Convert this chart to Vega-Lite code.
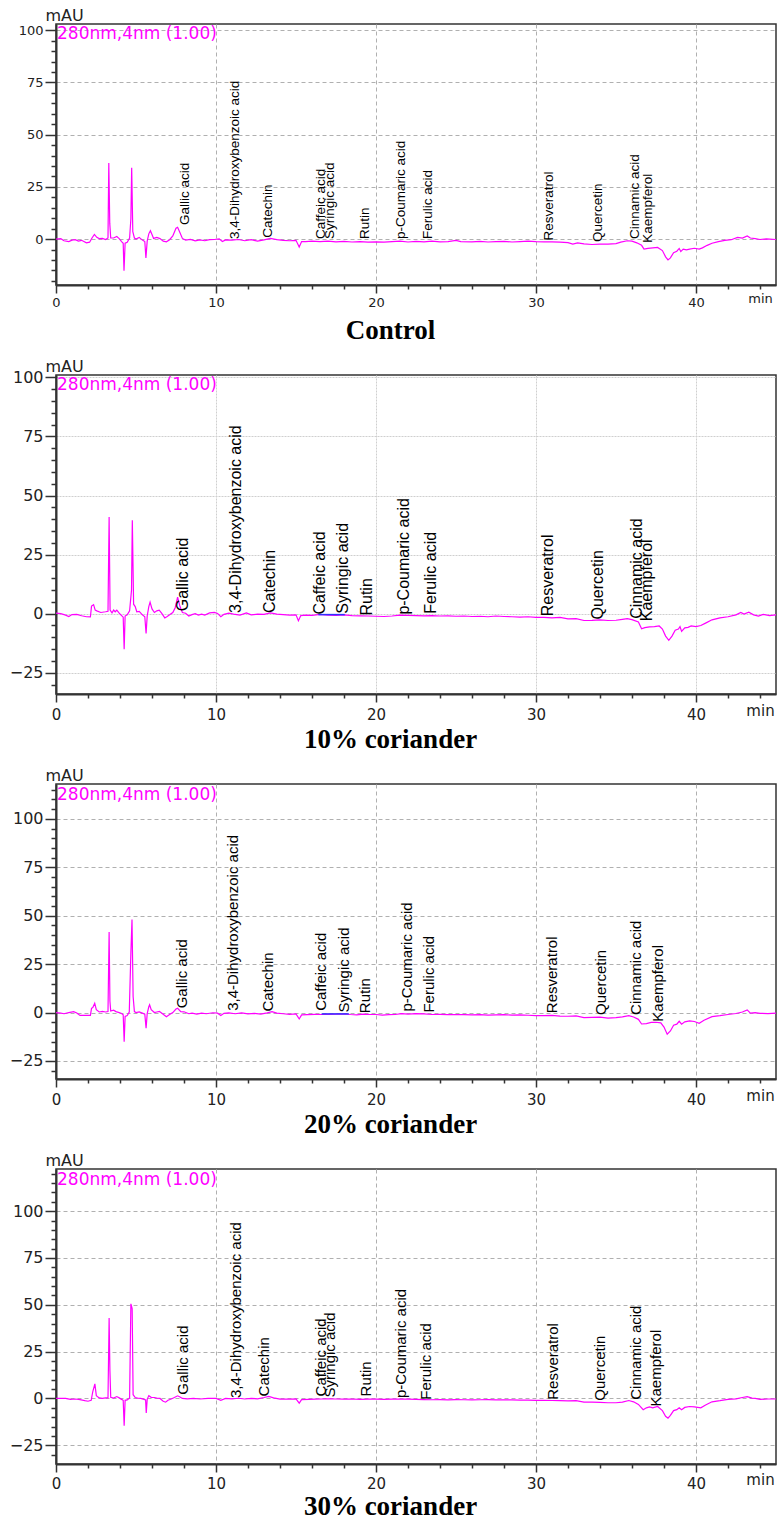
{
  "$schema": "https://vega.github.io/schema/vega-lite/v6.json",
  "background": "white",
  "padding": {"left": 8, "top": 6, "right": 5, "bottom": 2},
  "bounds": "flush",
  "spacing": 90,
  "config": {
    "view": {"stroke": "#333", "strokeWidth": 1.5},
    "axis": {
      "domainColor": "#333", "domainWidth": 2, "tickColor": "#333", "tickWidth": 1.5,
      "labelFont": "DejaVu Sans", "labelColor": "#222", "gridColor": "#b0b0b0", "gridDash": [4, 3], "gridWidth": 1,
      "labelOverlap": false, "labelFlush": false, "labelBound": false, "tickCount": 200, "format": "d"
    },
    "axisX": {"titleFont": "Liberation Serif", "titleFontWeight": "bold", "titleColor": "#000", "titleFontSize": 27, "titleX": 334, "titleY": 53, "titleBaseline": "alphabetic", "titleAlign": "center", "titleAnchor": null},
    "axisY": {"titleAngle": 0, "titleAlign": "left", "titleBaseline": "alphabetic", "titleX": -11, "titleY": -4, "titleFont": "DejaVu Sans", "titleFontWeight": "normal", "titleColor": "#222", "titleFontSize": 16}
  },
  "datasets": {
    "tr0": [
      {"t":0,"v":0},{"t":0.3,"v":0.2},{"t":0.5,"v":-0.8},{"t":0.8,"v":-1.2},{"t":1.0,"v":-0.5},{"t":1.2,"v":-0.3},{"t":1.4,"v":-1.0},{"t":1.6,"v":-0.6},{"t":1.9,"v":-1.8},{"t":2.1,"v":-1.5},{"t":2.25,"v":0.5},{"t":2.4,"v":2.2},{"t":2.55,"v":0.8},{"t":2.7,"v":0.2},{"t":2.9,"v":0.3},{"t":3.1,"v":-0.2},{"t":3.25,"v":0.5},{"t":3.3,"v":36.4},{"t":3.36,"v":7.5},{"t":3.42,"v":0.5},{"t":3.6,"v":0.5},{"t":3.8,"v":1.2},{"t":3.95,"v":0.2},{"t":4.1,"v":-1.2},{"t":4.2,"v":-2},{"t":4.25,"v":-15.2},{"t":4.32,"v":-2},{"t":4.45,"v":-1.5},{"t":4.6,"v":0.5},{"t":4.68,"v":9.7},{"t":4.73,"v":34.1},{"t":4.8,"v":3.5},{"t":4.9,"v":0.5},{"t":5.0,"v":0},{"t":5.2,"v":0.8},{"t":5.4,"v":-0.5},{"t":5.55,"v":-1.2},{"t":5.62,"v":-9},{"t":5.7,"v":-1},{"t":5.8,"v":2.5},{"t":5.9,"v":4},{"t":6.0,"v":2.2},{"t":6.1,"v":0.3},{"t":6.3,"v":0.8},{"t":6.5,"v":0.2},{"t":6.7,"v":-1},{"t":6.9,"v":-1.3},{"t":7.1,"v":-0.3},{"t":7.3,"v":1.5},{"t":7.5,"v":5.2},{"t":7.6,"v":5.6},{"t":7.75,"v":3},{"t":7.9,"v":0.3},{"t":8.1,"v":-0.5},{"t":8.4,"v":-0.2},{"t":8.7,"v":-0.9},{"t":9.0,"v":-0.4},{"t":9.3,"v":-0.8},{"t":9.6,"v":-0.3},{"t":9.9,"v":-0.2},{"t":10.2,"v":0.1},{"t":10.4,"v":-1.2},{"t":10.6,"v":-0.4},{"t":11.0,"v":-0.5},{"t":11.4,"v":-0.2},{"t":11.8,"v":-0.8},{"t":12.2,"v":-0.3},{"t":12.6,"v":-1.0},{"t":13.0,"v":-0.4},{"t":13.4,"v":0.3},{"t":13.8,"v":-0.3},{"t":14.2,"v":-0.6},{"t":14.6,"v":-0.8},{"t":15.0,"v":-0.6},{"t":15.2,"v":-3.8},{"t":15.35,"v":-1.2},{"t":15.6,"v":-1.2},{"t":16.0,"v":-1.0},{"t":16.5,"v":-1.2},{"t":17.0,"v":-1.0},{"t":17.5,"v":-1.3},{"t":18.0,"v":-1.1},{"t":18.5,"v":-1.4},{"t":19.0,"v":-1.2},{"t":19.5,"v":-1.5},{"t":20.0,"v":-1.3},{"t":20.5,"v":-1.5},{"t":21.0,"v":-1.2},{"t":21.5,"v":-1.0},{"t":22.0,"v":-1.4},{"t":22.5,"v":-1.1},{"t":23.0,"v":-1.3},{"t":23.5,"v":-1.0},{"t":24.0,"v":-1.3},{"t":24.5,"v":-1.2},{"t":25.0,"v":-0.6},{"t":25.3,"v":-1.2},{"t":26.0,"v":-1.3},{"t":26.5,"v":-1.1},{"t":27.0,"v":-1.4},{"t":27.5,"v":-1.2},{"t":28.0,"v":-1.1},{"t":28.5,"v":-1.4},{"t":29.0,"v":-1.2},{"t":29.5,"v":-1.0},{"t":30.0,"v":-1.2},{"t":30.5,"v":-1.3},{"t":31.0,"v":-1.3},{"t":31.5,"v":-1.5},{"t":32.0,"v":-1.7},{"t":32.3,"v":-2.4},{"t":32.6,"v":-1.8},{"t":33.0,"v":-2.3},{"t":33.5,"v":-2.6},{"t":34.0,"v":-2.4},{"t":34.5,"v":-2.4},{"t":35.0,"v":-2.2},{"t":35.3,"v":-1.5},{"t":35.7,"v":-0.8},{"t":36.0,"v":-1.0},{"t":36.3,"v":-1.8},{"t":36.6,"v":-3.0},{"t":36.75,"v":-4.8},{"t":37.0,"v":-4.5},{"t":37.3,"v":-4.2},{"t":37.6,"v":-4.0},{"t":37.9,"v":-5.5},{"t":38.1,"v":-8.5},{"t":38.25,"v":-10},{"t":38.4,"v":-9},{"t":38.6,"v":-6.5},{"t":38.8,"v":-5.8},{"t":38.95,"v":-4.5},{"t":39.05,"v":-6},{"t":39.2,"v":-4.8},{"t":39.4,"v":-5.2},{"t":39.6,"v":-4.8},{"t":39.9,"v":-4.4},{"t":40.2,"v":-4.8},{"t":40.4,"v":-4.2},{"t":40.7,"v":-3.0},{"t":41.0,"v":-2.0},{"t":41.4,"v":-1.2},{"t":41.8,"v":-0.6},{"t":42.2,"v":-0.3},{"t":42.6,"v":0.8},{"t":42.9,"v":0.5},{"t":43.2,"v":1.5},{"t":43.4,"v":0.5},{"t":43.7,"v":0.2},{"t":44.0,"v":-0.2},{"t":44.4,"v":0.1},{"t":45,"v":-0.2}
    ],
    "tr10": [
      {"t":0,"v":0.2},{"t":0.3,"v":0},{"t":0.6,"v":-0.6},{"t":0.8,"v":-1.2},{"t":1.0,"v":-0.4},{"t":1.3,"v":-0.3},{"t":1.6,"v":-0.9},{"t":1.9,"v":-1.3},{"t":2.15,"v":-1.4},{"t":2.22,"v":3.2},{"t":2.35,"v":3.8},{"t":2.45,"v":1.5},{"t":2.55,"v":1.2},{"t":2.8,"v":0.5},{"t":3.1,"v":0.8},{"t":3.25,"v":1},{"t":3.32,"v":40.9},{"t":3.38,"v":1.5},{"t":3.5,"v":0.3},{"t":3.6,"v":1.5},{"t":3.7,"v":0.8},{"t":3.8,"v":1.5},{"t":3.95,"v":0.2},{"t":4.1,"v":-0.8},{"t":4.2,"v":-1.5},{"t":4.26,"v":-15.1},{"t":4.32,"v":-1},{"t":4.45,"v":-0.5},{"t":4.6,"v":1.2},{"t":4.72,"v":10},{"t":4.77,"v":39.5},{"t":4.85,"v":4},{"t":4.95,"v":3},{"t":5.05,"v":0.8},{"t":5.2,"v":1},{"t":5.4,"v":-0.5},{"t":5.55,"v":-1.3},{"t":5.63,"v":-8.4},{"t":5.7,"v":-1},{"t":5.8,"v":3},{"t":5.88,"v":4.9},{"t":6.0,"v":2},{"t":6.15,"v":0.5},{"t":6.3,"v":1.2},{"t":6.45,"v":1.5},{"t":6.6,"v":0.2},{"t":6.8,"v":-1.8},{"t":6.95,"v":-1.2},{"t":7.1,"v":-0.5},{"t":7.3,"v":0.5},{"t":7.45,"v":2.5},{"t":7.6,"v":7},{"t":7.75,"v":3},{"t":7.9,"v":0.5},{"t":8.1,"v":0.2},{"t":8.3,"v":-1},{"t":8.5,"v":-0.4},{"t":8.7,"v":0},{"t":8.9,"v":-0.6},{"t":9.1,"v":-0.2},{"t":9.3,"v":-0.6},{"t":9.6,"v":0.3},{"t":9.9,"v":0.5},{"t":10.1,"v":0.1},{"t":10.3,"v":-1.3},{"t":10.5,"v":-0.3},{"t":10.8,"v":0.2},{"t":11.1,"v":-0.2},{"t":11.5,"v":-0.6},{"t":11.9,"v":0.3},{"t":12.2,"v":-0.5},{"t":12.6,"v":-0.2},{"t":13.0,"v":-0.3},{"t":13.4,"v":0.3},{"t":13.8,"v":-0.2},{"t":14.2,"v":-0.4},{"t":14.6,"v":-0.6},{"t":15.0,"v":-0.5},{"t":15.15,"v":-3.0},{"t":15.3,"v":-0.8},{"t":15.6,"v":-0.6},{"t":16.0,"v":-0.7},{"t":16.5,"v":-0.3},{"t":17.0,"v":-0.6},{"t":17.5,"v":-0.7},{"t":18.0,"v":-0.5},{"t":18.5,"v":-0.8},{"t":19.0,"v":-0.9},{"t":19.5,"v":-1.0},{"t":20.0,"v":-1.1},{"t":20.5,"v":-1.2},{"t":21.0,"v":-1.0},{"t":21.5,"v":-0.6},{"t":22.0,"v":-0.7},{"t":22.5,"v":-0.8},{"t":23.0,"v":-0.9},{"t":23.5,"v":-0.8},{"t":24.0,"v":-1.0},{"t":24.5,"v":-0.9},{"t":25.0,"v":-1.1},{"t":25.5,"v":-1.0},{"t":26.0,"v":-1.2},{"t":26.5,"v":-1.1},{"t":27.0,"v":-1.3},{"t":27.5,"v":-1.0},{"t":28.0,"v":-1.2},{"t":28.5,"v":-1.3},{"t":29.0,"v":-1.5},{"t":29.5,"v":-1.3},{"t":30.0,"v":-1.6},{"t":30.5,"v":-1.6},{"t":31.0,"v":-1.8},{"t":31.5,"v":-1.6},{"t":32.0,"v":-2.2},{"t":32.5,"v":-2.1},{"t":33.0,"v":-2.9},{"t":33.5,"v":-2.8},{"t":34.0,"v":-2.6},{"t":34.5,"v":-2.9},{"t":35.0,"v":-2.8},{"t":35.4,"v":-2.4},{"t":35.7,"v":-2.1},{"t":36.0,"v":-2.5},{"t":36.4,"v":-3.5},{"t":36.6,"v":-6.4},{"t":36.8,"v":-5.9},{"t":37.1,"v":-5.6},{"t":37.4,"v":-5.5},{"t":37.7,"v":-5.2},{"t":37.9,"v":-6.5},{"t":38.1,"v":-9.5},{"t":38.3,"v":-11.3},{"t":38.5,"v":-9.5},{"t":38.7,"v":-7},{"t":38.9,"v":-6.5},{"t":39.0,"v":-5.5},{"t":39.1,"v":-7.5},{"t":39.3,"v":-6},{"t":39.5,"v":-5.8},{"t":39.7,"v":-5.2},{"t":40.0,"v":-5.5},{"t":40.3,"v":-5},{"t":40.6,"v":-4},{"t":41.0,"v":-2.6},{"t":41.5,"v":-1.8},{"t":42.0,"v":-1.3},{"t":42.5,"v":-0.5},{"t":42.8,"v":0.5},{"t":43.0,"v":-0.2},{"t":43.3,"v":0.6},{"t":43.6,"v":-0.5},{"t":43.9,"v":-1},{"t":44.2,"v":-0.3},{"t":44.6,"v":-0.8},{"t":45,"v":-0.5}
    ],
    "tr20": [
      {"t":0,"v":0},{"t":0.3,"v":-0.3},{"t":0.5,"v":-0.6},{"t":0.8,"v":0},{"t":1.1,"v":0.5},{"t":1.3,"v":-0.2},{"t":1.5,"v":-1.5},{"t":1.8,"v":-1.4},{"t":2.15,"v":-1.5},{"t":2.22,"v":2.2},{"t":2.3,"v":2.6},{"t":2.42,"v":4.8},{"t":2.52,"v":1.5},{"t":2.7,"v":0.3},{"t":2.9,"v":0.6},{"t":3.1,"v":0.3},{"t":3.25,"v":0.5},{"t":3.32,"v":41.6},{"t":3.37,"v":6},{"t":3.42,"v":0.8},{"t":3.6,"v":1.2},{"t":3.75,"v":0.5},{"t":3.95,"v":0},{"t":4.1,"v":-0.5},{"t":4.2,"v":-1.2},{"t":4.26,"v":-15},{"t":4.32,"v":-2},{"t":4.45,"v":-1.5},{"t":4.58,"v":0.3},{"t":4.68,"v":30.7},{"t":4.75,"v":48},{"t":4.82,"v":8.3},{"t":4.9,"v":0.5},{"t":5.0,"v":0},{"t":5.2,"v":0.3},{"t":5.4,"v":-0.3},{"t":5.55,"v":-0.8},{"t":5.63,"v":-8.1},{"t":5.7,"v":-0.5},{"t":5.8,"v":3},{"t":5.85,"v":4},{"t":5.95,"v":1.5},{"t":6.15,"v":0},{"t":6.3,"v":0.3},{"t":6.46,"v":0.6},{"t":6.6,"v":-0.2},{"t":6.8,"v":-1.5},{"t":6.9,"v":-2.2},{"t":7.1,"v":-1},{"t":7.3,"v":0},{"t":7.5,"v":1.8},{"t":7.6,"v":2.2},{"t":7.8,"v":0.5},{"t":8.0,"v":0.4},{"t":8.3,"v":-0.6},{"t":8.5,"v":-0.3},{"t":8.8,"v":-0.8},{"t":9.1,"v":-0.3},{"t":9.4,"v":-0.6},{"t":9.8,"v":-0.1},{"t":10.1,"v":-0.3},{"t":10.3,"v":-1.5},{"t":10.5,"v":-0.4},{"t":10.8,"v":-0.2},{"t":11.2,"v":-0.6},{"t":11.6,"v":-0.2},{"t":12.0,"v":-0.7},{"t":12.4,"v":-0.4},{"t":12.8,"v":-0.8},{"t":13.2,"v":-0.2},{"t":13.5,"v":0.5},{"t":13.8,"v":-0.3},{"t":14.2,"v":-0.6},{"t":14.6,"v":-0.9},{"t":15.0,"v":-0.7},{"t":15.2,"v":-3.3},{"t":15.35,"v":-1.2},{"t":15.7,"v":-1.1},{"t":16.2,"v":-0.9},{"t":16.6,"v":-1.0},{"t":17.0,"v":-0.9},{"t":17.5,"v":-0.8},{"t":18.0,"v":-0.7},{"t":18.4,"v":-1.0},{"t":18.8,"v":-1.2},{"t":19.2,"v":-0.8},{"t":19.6,"v":-1.0},{"t":20.0,"v":-1.0},{"t":20.4,"v":-1.3},{"t":20.8,"v":-1.1},{"t":21.2,"v":-1.0},{"t":21.6,"v":-0.6},{"t":22.0,"v":-0.8},{"t":22.5,"v":-0.6},{"t":23.0,"v":-0.7},{"t":23.5,"v":-1.0},{"t":24.0,"v":-0.9},{"t":24.5,"v":-1.1},{"t":25.0,"v":-1.0},{"t":25.5,"v":-1.1},{"t":26.0,"v":-1.2},{"t":26.5,"v":-1.1},{"t":27.0,"v":-1.3},{"t":27.5,"v":-1.2},{"t":28.0,"v":-1.1},{"t":28.5,"v":-1.3},{"t":29.0,"v":-1.2},{"t":29.5,"v":-1.4},{"t":30.0,"v":-1.6},{"t":30.5,"v":-1.6},{"t":31.0,"v":-1.5},{"t":31.5,"v":-1.8},{"t":32.0,"v":-1.9},{"t":32.5,"v":-1.7},{"t":33.0,"v":-2.6},{"t":33.5,"v":-2.5},{"t":34.0,"v":-2.4},{"t":34.5,"v":-2.9},{"t":35.0,"v":-2.6},{"t":35.4,"v":-2.2},{"t":35.8,"v":-1.6},{"t":36.1,"v":-2.3},{"t":36.4,"v":-3.5},{"t":36.6,"v":-5.9},{"t":36.9,"v":-5.7},{"t":37.2,"v":-5.1},{"t":37.5,"v":-5},{"t":37.8,"v":-5.3},{"t":38.0,"v":-7.5},{"t":38.2,"v":-11.2},{"t":38.4,"v":-9.5},{"t":38.6,"v":-6.5},{"t":38.8,"v":-6},{"t":38.95,"v":-4.5},{"t":39.1,"v":-6},{"t":39.3,"v":-4.8},{"t":39.6,"v":-4.3},{"t":39.9,"v":-4.6},{"t":40.2,"v":-5.5},{"t":40.5,"v":-4},{"t":41.0,"v":-2.1},{"t":41.5,"v":-1.6},{"t":42.0,"v":-1},{"t":42.5,"v":-0.5},{"t":42.9,"v":0.3},{"t":43.2,"v":1.4},{"t":43.4,"v":-0.3},{"t":43.7,"v":0},{"t":44.0,"v":-0.4},{"t":44.5,"v":-0.5},{"t":45,"v":-0.3}
    ],
    "tr30": [
      {"t":0,"v":0},{"t":0.3,"v":0.1},{"t":0.6,"v":0},{"t":0.9,"v":-0.5},{"t":1.2,"v":-0.3},{"t":1.5,"v":-0.6},{"t":1.8,"v":-1.2},{"t":2.0,"v":-1.5},{"t":2.2,"v":-1},{"t":2.3,"v":3.7},{"t":2.43,"v":7.8},{"t":2.52,"v":1.5},{"t":2.7,"v":0.3},{"t":2.9,"v":0},{"t":3.1,"v":0.3},{"t":3.25,"v":0.3},{"t":3.32,"v":43},{"t":3.37,"v":14.8},{"t":3.42,"v":0.6},{"t":3.6,"v":0.2},{"t":3.8,"v":1},{"t":3.95,"v":0.3},{"t":4.1,"v":-0.5},{"t":4.2,"v":-1},{"t":4.26,"v":-14.6},{"t":4.32,"v":-1},{"t":4.45,"v":-0.8},{"t":4.6,"v":0.3},{"t":4.68,"v":50.5},{"t":4.76,"v":48},{"t":4.82,"v":2},{"t":4.95,"v":0.5},{"t":5.1,"v":0.2},{"t":5.3,"v":0},{"t":5.5,"v":-0.5},{"t":5.6,"v":-0.8},{"t":5.64,"v":-7.8},{"t":5.7,"v":-0.5},{"t":5.8,"v":1.5},{"t":5.95,"v":0.6},{"t":6.15,"v":0.5},{"t":6.3,"v":0.2},{"t":6.5,"v":0},{"t":6.7,"v":-1.5},{"t":6.85,"v":-2},{"t":7.0,"v":-1},{"t":7.2,"v":-0.3},{"t":7.4,"v":0.5},{"t":7.6,"v":1.4},{"t":7.75,"v":0.8},{"t":7.9,"v":0},{"t":8.2,"v":-0.2},{"t":8.6,"v":0},{"t":9.0,"v":-0.3},{"t":9.5,"v":0},{"t":10.0,"v":0},{"t":10.3,"v":-1},{"t":10.6,"v":0},{"t":11.0,"v":-0.2},{"t":11.4,"v":0.1},{"t":11.8,"v":-0.3},{"t":12.2,"v":0},{"t":12.6,"v":-0.2},{"t":13.0,"v":0.5},{"t":13.3,"v":1.1},{"t":13.6,"v":0.3},{"t":14.0,"v":-0.4},{"t":14.3,"v":-0.3},{"t":14.7,"v":-0.4},{"t":15.0,"v":-0.2},{"t":15.2,"v":-2.5},{"t":15.35,"v":-0.6},{"t":15.8,"v":-0.5},{"t":16.2,"v":-0.4},{"t":16.6,"v":-0.3},{"t":17.0,"v":-0.2},{"t":17.5,"v":-0.3},{"t":18.0,"v":-0.4},{"t":18.5,"v":-0.3},{"t":19.0,"v":-0.5},{"t":19.5,"v":-0.4},{"t":20.0,"v":-0.4},{"t":20.5,"v":-0.5},{"t":21.0,"v":-0.4},{"t":21.5,"v":-0.3},{"t":22.0,"v":-0.4},{"t":22.5,"v":-0.5},{"t":23.0,"v":-0.6},{"t":23.5,"v":-0.7},{"t":24.0,"v":-0.6},{"t":24.5,"v":-0.8},{"t":25.0,"v":-0.6},{"t":25.5,"v":-0.7},{"t":26.0,"v":-0.8},{"t":26.5,"v":-0.7},{"t":27.0,"v":-0.6},{"t":27.5,"v":-0.8},{"t":28.0,"v":-0.7},{"t":28.5,"v":-0.8},{"t":29.0,"v":-0.9},{"t":29.5,"v":-0.9},{"t":30.0,"v":-1.0},{"t":30.5,"v":-1.0},{"t":31.0,"v":-1.1},{"t":31.5,"v":-1.2},{"t":32.0,"v":-1.3},{"t":32.5,"v":-1.2},{"t":33.0,"v":-2},{"t":33.5,"v":-2},{"t":34.0,"v":-2.1},{"t":34.5,"v":-2.3},{"t":35.0,"v":-2.3},{"t":35.4,"v":-2.0},{"t":35.8,"v":-1.1},{"t":36.1,"v":-1.8},{"t":36.4,"v":-3.2},{"t":36.7,"v":-6},{"t":36.9,"v":-5},{"t":37.1,"v":-4.5},{"t":37.3,"v":-5},{"t":37.6,"v":-4.3},{"t":37.9,"v":-6.5},{"t":38.1,"v":-9.5},{"t":38.25,"v":-10.5},{"t":38.4,"v":-9},{"t":38.6,"v":-6.5},{"t":38.8,"v":-6},{"t":38.95,"v":-5},{"t":39.1,"v":-6},{"t":39.3,"v":-4.8},{"t":39.6,"v":-4.3},{"t":39.9,"v":-4.5},{"t":40.3,"v":-5},{"t":40.6,"v":-3.5},{"t":41.0,"v":-1.8},{"t":41.5,"v":-1.2},{"t":42.0,"v":-0.5},{"t":42.5,"v":-0.2},{"t":42.9,"v":0.5},{"t":43.2,"v":1},{"t":43.5,"v":0.2},{"t":43.7,"v":0},{"t":44.0,"v":-0.5},{"t":44.5,"v":-0.3},{"t":45,"v":-0.3}
    ],
    "blue10": [{"t":16.4,"v":-0.4},{"t":18.05,"v":-0.4}],
    "blue20": [{"t":16.6,"v":-0.7},{"t":18.3,"v":-0.7}],
    "lab0": [
      {"name":"Gallic acid","t":8.08,"v":6.7},{"name":"3,4-Dihydroxybenzoic acid","t":11.17,"v":0},{"name":"Catechin","t":13.27,"v":0.6},{"name":"Caffeic acid","t":16.56,"v":0},{"name":"Syringic acid","t":17.1,"v":0},{"name":"Rutin","t":19.3,"v":0},{"name":"p-Coumaric acid","t":21.56,"v":0},{"name":"Ferulic acid","t":23.27,"v":0},{"name":"Resveratrol","t":30.83,"v":-0.7},{"name":"Quercetin","t":33.9,"v":-1.4},{"name":"Cinnamic acid","t":36.19,"v":0},{"name":"Kaempferol","t":36.98,"v":-1.8}
    ],
    "lab10": [
      {"name":"Gallic acid","t":7.94,"v":1.0},{"name":"3,4-Dihydroxybenzoic acid","t":11.24,"v":0.3},{"name":"Catechin","t":13.4,"v":0.3},{"name":"Caffeic acid","t":16.52,"v":-0.4},{"name":"Syringic acid","t":17.94,"v":0},{"name":"Rutin","t":19.46,"v":-0.8},{"name":"p-Coumaric acid","t":21.73,"v":-0.4},{"name":"Ferulic acid","t":23.44,"v":0},{"name":"Resveratrol","t":30.75,"v":-1.1},{"name":"Quercetin","t":33.86,"v":-2.5},{"name":"Cinnamic acid","t":36.29,"v":-2.2},{"name":"Kaempferol","t":36.95,"v":-3.2}
    ],
    "lab20": [
      {"name":"Gallic acid","t":7.85,"v":2.2},{"name":"3,4-Dihydroxybenzoic acid","t":11.08,"v":0.9},{"name":"Catechin","t":13.27,"v":0.5},{"name":"Caffeic acid","t":16.56,"v":0.9},{"name":"Syringic acid","t":18.0,"v":0},{"name":"Rutin","t":19.3,"v":-0.3},{"name":"p-Coumaric acid","t":21.92,"v":0.5},{"name":"Ferulic acid","t":23.3,"v":0},{"name":"Resveratrol","t":31.02,"v":-0.3},{"name":"Quercetin","t":34.06,"v":-1.2},{"name":"Cinnamic acid","t":36.25,"v":-1.2},{"name":"Kaempferol","t":37.65,"v":-4.7}
    ],
    "lab30": [
      {"name":"Gallic acid","t":7.94,"v":2.0},{"name":"3,4-Dihydroxybenzoic acid","t":11.22,"v":0.2},{"name":"Catechin","t":12.98,"v":1.1},{"name":"Caffeic acid","t":16.55,"v":1.1},{"name":"Syringic acid","t":17.1,"v":0.5},{"name":"Rutin","t":19.4,"v":1.1},{"name":"p-Coumaric acid","t":21.55,"v":0.2},{"name":"Ferulic acid","t":23.1,"v":-0.7},{"name":"Resveratrol","t":31.05,"v":-0.7},{"name":"Quercetin","t":33.97,"v":-1.2},{"name":"Cinnamic acid","t":36.22,"v":-0.7},{"name":"Kaempferol","t":37.52,"v":-4.3}
    ],
    "info": [{"label":"280nm,4nm (1.00)"}]
  },
  "vconcat": [
    {
      "width": 720, "height": 261,
      "layer": [
        {"data": {"name": "tr0"}, "mark": {"type": "line", "color": "#ff00ff", "strokeWidth": 1.2},
          "encoding": {
            "x": {"field": "t", "type": "quantitative", "scale": {"domain": [0, 45], "nice": false, "zero": false},
              "axis": {"title": "Control", "format": "d", "tickCount": 200, "labelOverlap": false, "values": [0,2,4,6,8,10,12,14,16,18,20,22,24,26,28,30,32,34,36,38,40,42,44],
                "labelExpr": "datum.value === 44 ? 'min' : (datum.value % 10 === 0 ? datum.label : '')",
                "tickSize": {"condition": {"test": "datum.value % 10 === 0", "value": 8}, "value": 4},
                "gridOpacity": {"condition": {"test": "datum.value % 10 === 0 && datum.value > 0", "value": 1}, "value": 0},
                "labelFontSize": 13, "labelPadding": 3}},
            "y": {"field": "v", "type": "quantitative", "scale": {"domain": [-22, 103], "nice": false, "zero": false},
              "axis": {"title": "mAU", "format": "d", "tickCount": 200, "labelOverlap": false, "values": [-20,-15,-10,-5,0,5,10,15,20,25,30,35,40,45,50,55,60,65,70,75,80,85,90,95,100],
                "labelExpr": "datum.value % 25 === 0 ? datum.label : ''",
                "tickSize": {"condition": {"test": "datum.value % 25 === 0", "value": 11}, "value": 5},
                "gridOpacity": {"condition": {"test": "datum.value % 25 === 0", "value": 1}, "value": 0},
                "labelFontSize": 13, "labelPadding": 2}}
          }},
        {"data": {"name": "lab0"}, "mark": {"type": "text", "angle": 270, "align": "left", "baseline": "middle", "font": "Liberation Sans", "fontSize": 13.5, "color": "#000"},
          "encoding": {"x": {"field": "t", "type": "quantitative"}, "y": {"field": "v", "type": "quantitative"}, "text": {"field": "name"}}},
        {"data": {"name": "info"}, "mark": {"type": "text", "align": "left", "baseline": "top", "dx": 1, "dy": 2, "font": "DejaVu Sans", "fontSize": 17, "color": "#ff00ff"},
          "encoding": {"x": {"datum": 0}, "y": {"datum": 103}, "text": {"field": "label"}}}
      ]
    },
    {
      "width": 720, "height": 319,
      "layer": [
        {"data": {"name": "tr10"}, "mark": {"type": "line", "color": "#ff00ff", "strokeWidth": 1.2},
          "encoding": {
            "x": {"field": "t", "type": "quantitative", "scale": {"domain": [0, 45], "nice": false, "zero": false},
              "axis": {"title": "10% coriander", "format": "d", "tickCount": 200, "labelOverlap": false, "values": [0,2,4,6,8,10,12,14,16,18,20,22,24,26,28,30,32,34,36,38,40,42,44],
                "labelExpr": "datum.value === 44 ? 'min' : (datum.value % 10 === 0 ? datum.label : '')",
                "tickSize": {"condition": {"test": "datum.value % 10 === 0", "value": 8}, "value": 4},
                "gridOpacity": {"condition": {"test": "datum.value % 10 === 0 && datum.value > 0", "value": 1}, "value": 0},
                "gridDash": [2, 1], "gridColor": "#cfcfcf",
                "labelFontSize": 15, "labelPadding": 5}},
            "y": {"field": "v", "type": "quantitative", "scale": {"domain": [-34, 101], "nice": false, "zero": false},
              "axis": {"title": "mAU", "format": "d", "tickCount": 200, "labelOverlap": false, "values": [-30,-25,-20,-15,-10,-5,0,5,10,15,20,25,30,35,40,45,50,55,60,65,70,75,80,85,90,95,100],
                "labelExpr": "datum.value % 25 === 0 ? datum.label : ''",
                "tickSize": {"condition": {"test": "datum.value % 25 === 0", "value": 11}, "value": 5},
                "gridOpacity": {"condition": {"test": "datum.value % 25 === 0", "value": 1}, "value": 0},
                "gridDash": [2, 1], "gridColor": "#cfcfcf",
                "labelFontSize": 16, "labelPadding": 2}}
          }},
        {"data": {"name": "blue10"}, "mark": {"type": "line", "color": "#3030ff", "strokeWidth": 1.5},
          "encoding": {"x": {"field": "t", "type": "quantitative"}, "y": {"field": "v", "type": "quantitative"}}},
        {"data": {"name": "lab10"}, "mark": {"type": "text", "angle": 270, "align": "left", "baseline": "middle", "font": "Liberation Sans", "fontSize": 16, "color": "#000"},
          "encoding": {"x": {"field": "t", "type": "quantitative"}, "y": {"field": "v", "type": "quantitative"}, "text": {"field": "name"}}},
        {"data": {"name": "info"}, "mark": {"type": "text", "align": "left", "baseline": "top", "dx": 1, "dy": 2, "font": "DejaVu Sans", "fontSize": 17, "color": "#ff00ff"},
          "encoding": {"x": {"datum": 0}, "y": {"datum": 101}, "text": {"field": "label"}}}
      ]
    },
    {
      "width": 720, "height": 295,
      "layer": [
        {"data": {"name": "tr20"}, "mark": {"type": "line", "color": "#ff00ff", "strokeWidth": 1.2},
          "encoding": {
            "x": {"field": "t", "type": "quantitative", "scale": {"domain": [0, 45], "nice": false, "zero": false},
              "axis": {"title": "20% coriander", "format": "d", "tickCount": 200, "labelOverlap": false, "values": [0,2,4,6,8,10,12,14,16,18,20,22,24,26,28,30,32,34,36,38,40,42,44],
                "labelExpr": "datum.value === 44 ? 'min' : (datum.value % 10 === 0 ? datum.label : '')",
                "tickSize": {"condition": {"test": "datum.value % 10 === 0", "value": 8}, "value": 4},
                "gridOpacity": {"condition": {"test": "datum.value % 10 === 0 && datum.value > 0", "value": 1}, "value": 0},
                "labelFontSize": 15, "labelPadding": 5}},
            "y": {"field": "v", "type": "quantitative", "scale": {"domain": [-34.3, 118], "nice": false, "zero": false},
              "axis": {"title": "mAU", "format": "d", "tickCount": 200, "labelOverlap": false, "values": [-30,-25,-20,-15,-10,-5,0,5,10,15,20,25,30,35,40,45,50,55,60,65,70,75,80,85,90,95,100,105,110,115],
                "labelExpr": "datum.value % 25 === 0 ? datum.label : ''",
                "tickSize": {"condition": {"test": "datum.value % 25 === 0", "value": 11}, "value": 5},
                "gridOpacity": {"condition": {"test": "datum.value % 25 === 0", "value": 1}, "value": 0},
                "labelFontSize": 16, "labelPadding": 2}}
          }},
        {"data": {"name": "blue20"}, "mark": {"type": "line", "color": "#3030ff", "strokeWidth": 1.5},
          "encoding": {"x": {"field": "t", "type": "quantitative"}, "y": {"field": "v", "type": "quantitative"}}},
        {"data": {"name": "lab20"}, "mark": {"type": "text", "angle": 270, "align": "left", "baseline": "middle", "font": "Liberation Sans", "fontSize": 15, "color": "#000"},
          "encoding": {"x": {"field": "t", "type": "quantitative"}, "y": {"field": "v", "type": "quantitative"}, "text": {"field": "name"}}},
        {"data": {"name": "info"}, "mark": {"type": "text", "align": "left", "baseline": "top", "dx": 1, "dy": 3, "font": "DejaVu Sans", "fontSize": 17, "color": "#ff00ff"},
          "encoding": {"x": {"datum": 0}, "y": {"datum": 118}, "text": {"field": "label"}}}
      ]
    },
    {
      "width": 720, "height": 295,
      "layer": [
        {"data": {"name": "tr30"}, "mark": {"type": "line", "color": "#ff00ff", "strokeWidth": 1.2},
          "encoding": {
            "x": {"field": "t", "type": "quantitative", "scale": {"domain": [0, 45], "nice": false, "zero": false},
              "axis": {"title": "30% coriander", "titleY": 50, "format": "d", "tickCount": 200, "labelOverlap": false, "values": [0,2,4,6,8,10,12,14,16,18,20,22,24,26,28,30,32,34,36,38,40,42,44],
                "labelExpr": "datum.value === 44 ? 'min' : (datum.value % 10 === 0 ? datum.label : '')",
                "tickSize": {"condition": {"test": "datum.value % 10 === 0", "value": 8}, "value": 4},
                "gridOpacity": {"condition": {"test": "datum.value % 10 === 0 && datum.value > 0", "value": 1}, "value": 0},
                "labelFontSize": 15, "labelPadding": 4}},
            "y": {"field": "v", "type": "quantitative", "scale": {"domain": [-35, 122.5], "nice": false, "zero": false},
              "axis": {"title": "mAU", "format": "d", "tickCount": 200, "labelOverlap": false, "values": [-30,-25,-20,-15,-10,-5,0,5,10,15,20,25,30,35,40,45,50,55,60,65,70,75,80,85,90,95,100,105,110,115,120],
                "labelExpr": "datum.value % 25 === 0 ? datum.label : ''",
                "tickSize": {"condition": {"test": "datum.value % 25 === 0", "value": 11}, "value": 5},
                "gridOpacity": {"condition": {"test": "datum.value % 25 === 0", "value": 1}, "value": 0},
                "labelFontSize": 16, "labelPadding": 2}}
          }},
        {"data": {"name": "lab30"}, "mark": {"type": "text", "angle": 270, "align": "left", "baseline": "middle", "font": "Liberation Sans", "fontSize": 15, "color": "#000"},
          "encoding": {"x": {"field": "t", "type": "quantitative"}, "y": {"field": "v", "type": "quantitative"}, "text": {"field": "name"}}},
        {"data": {"name": "info"}, "mark": {"type": "text", "align": "left", "baseline": "top", "dx": 1, "dy": 3, "font": "DejaVu Sans", "fontSize": 17, "color": "#ff00ff"},
          "encoding": {"x": {"datum": 0}, "y": {"datum": 122.5}, "text": {"field": "label"}}}
      ]
    }
  ]
}
